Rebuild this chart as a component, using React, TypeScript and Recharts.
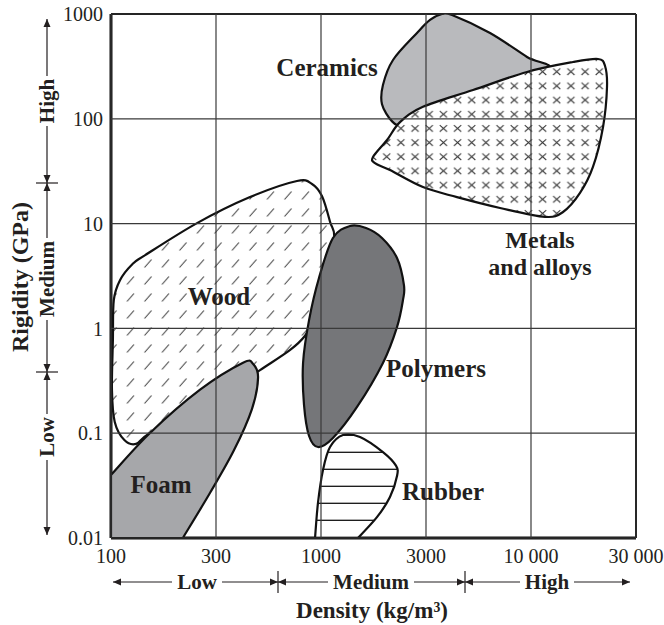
import React from 'react';
import { CartesianGrid, ReferenceLine, Scatter, ScatterChart, XAxis, YAxis } from 'recharts';

const densityTicks = [100, 300, 1000, 3000, 10000, 30000];
const densityTickLabels = ['100', '300', '1000', '3000', '10 000', '30 000'];
const rigidityTicks = [0.01, 0.1, 1, 10, 100, 1000];
const rigidityTickLabels = ['0.01', '0.1', '1', '10', '100', '1000'];

// outlines as [density kg/m3, rigidity GPa], clockwise. a repeated point = sharp corner
const wood = [
  [103, 1.87], [110, 2.9], [125, 4.1], [143, 5.0], [246, 10.1], [443, 17.9], [759, 25.5],
  [902, 23.9], [1010, 18.3], [1099, 10.4], [1146, 7.0], [1010, 2.3], [833, 0.85], [497, 0.4],
  [254, 0.18], [150, 0.1], [130, 0.079], [115, 0.086], [104, 0.128], [101, 0.26], [102, 0.77],
];
const foam = [
  [100, 0.04], [100, 0.04], [150, 0.1], [254, 0.26], [409, 0.47], [458, 0.46], [486, 0.34],
  [453, 0.17], [369, 0.069], [282, 0.027], [212, 0.01], [212, 0.01], [100, 0.01], [100, 0.01],
];
const polymers = [
  [1354, 9.48], [1602, 9.08], [1893, 7.29], [2215, 4.7], [2382, 2.59], [2358, 1.87], [2215, 1.03],
  [1912, 0.468], [1458, 0.178], [1133, 0.09], [966, 0.0738], [872, 0.094], [823, 0.186],
  [814, 0.468], [872, 1.2], [977, 3.03], [1133, 7.29],
];
const rubber = [
  [1259, 0.096], [1504, 0.092], [1912, 0.066], [2191, 0.049], [2215, 0.039], [2058, 0.0246],
  [1796, 0.0158], [1472, 0.01], [1472, 0.01], [934, 0.01], [934, 0.01], [966, 0.0216],
  [1021, 0.0446], [1099, 0.0738],
];
const ceramics = [
  [2100, 95], [1893, 138], [1912, 210], [2124, 364], [2730, 659], [3141, 877], [3602, 1000],
  [4045, 978], [6253, 659], [9553, 389], [11950, 292], [5571, 158], [3141, 104], [2333, 88],
];
const metals = [
  [1723, 43.2], [1996, 62.8], [2285, 93], [2906, 130], [5145, 188], [9553, 280], [15520, 348],
  [20160, 372], [21700, 319], [22150, 201], [21250, 83.6], [19120, 34.7], [16700, 19.6],
  [13980, 12.9], [11570, 11.6], [7010, 14.1], [4279, 17.9], [2906, 22.3], [2058, 32.4], [1759, 37.8],
];

// density ticks sit at equal spacing on the original, so map density onto tick index
const toAxisX = (d: number) => {
  for (let i = 0; i < densityTicks.length - 1; i++) {
    if (d <= densityTicks[i + 1]) {
      return i + Math.log(d / densityTicks[i]) / Math.log(densityTicks[i + 1] / densityTicks[i]);
    }
  }
  return densityTicks.length - 1;
};
const toPoints = (rows: number[][]) => rows.map(([d, r]) => ({ x: toAxisX(d), y: r }));

// closed catmull-rom through the points
const smoothClosed = (context: any) => {
  let pts: number[][] = [];
  const same = (a: number[], b: number[]) => Math.abs(a[0] - b[0]) < 0.01 && Math.abs(a[1] - b[1]) < 0.01;
  return {
    areaStart() {},
    areaEnd() {},
    lineStart() {
      pts = [];
    },
    point(x: number, y: number) {
      pts.push([x, y]);
    },
    lineEnd() {
      const n = pts.length;
      if (n < 2) return;
      context.moveTo(pts[0][0], pts[0][1]);
      for (let i = 0; i < n; i++) {
        const p0 = pts[(i - 1 + n) % n];
        const p1 = pts[i];
        const p2 = pts[(i + 1) % n];
        const p3 = pts[(i + 2) % n];
        if (same(p1, p2)) continue;
        context.bezierCurveTo(
          p1[0] + (p2[0] - p0[0]) / 6,
          p1[1] + (p2[1] - p0[1]) / 6,
          p2[0] - (p3[0] - p1[0]) / 6,
          p2[1] - (p3[1] - p1[1]) / 6,
          p2[0],
          p2[1],
        );
      }
      context.closePath();
    },
  };
};

const noDot = () => <g />;
const serif = '"Liberation Serif", "Times New Roman", serif';
const ink = '#231f20';

const blobs = [
  { name: 'wood', rows: wood, fill: 'url(#wood-hatch)' },
  { name: 'foam', rows: foam, fill: '#a6a7aa' },
  { name: 'polymers', rows: polymers, fill: '#757679' },
  { name: 'rubber', rows: rubber, fill: 'url(#rubber-lines)' },
  { name: 'ceramics', rows: ceramics, fill: '#b9babd' },
  { name: 'metals', rows: metals, fill: 'url(#metal-cross)' },
];

const yBands = [
  { label: 'High', from: 19, to: 183, mid: 101, len: 44 },
  { label: 'Medium', from: 183, to: 372, mid: 279, len: 76 },
  { label: 'Low', from: 372, to: 535, mid: 437, len: 40 },
];
const xBands = [
  { label: 'Low', from: 113, to: 278, mid: 197, len: 40 },
  { label: 'Medium', from: 278, to: 465, mid: 371, len: 76 },
  { label: 'High', from: 465, to: 630, mid: 547, len: 44 },
];

const head = (x: number, y: number, dir: 'up' | 'down' | 'left' | 'right') => {
  const l = 8;
  const w = 3.5;
  const pts =
    dir === 'up' ? [[x, y], [x - w, y + l], [x + w, y + l]]
    : dir === 'down' ? [[x, y], [x - w, y - l], [x + w, y - l]]
    : dir === 'left' ? [[x, y], [x + l, y - w], [x + l, y + w]]
    : [[x, y], [x - l, y - w], [x - l, y + w]];
  return <polygon points={pts.map((p) => p.join(',')).join(' ')} fill={ink} />;
};

const Annotations = () => {
  const ax = 47;
  const ay = 582;
  return (
    <svg width={664} height={625} style={{ position: 'absolute', left: 0, top: 0, pointerEvents: 'none' }}>
      {yBands.map((b) => (
        <g key={`y-${b.label}`}>
          <line x1={ax} x2={ax} y1={b.from} y2={b.mid - b.len / 2 - 3} stroke={ink} strokeWidth={1.2} />
          <line x1={ax} x2={ax} y1={b.mid + b.len / 2 + 3} y2={b.to} stroke={ink} strokeWidth={1.2} />
          {head(ax, b.from, 'up')}
          {head(ax, b.to, 'down')}
          <text
            transform={`translate(${ax + 7},${b.mid}) rotate(-90)`}
            textAnchor="middle"
            fontFamily={serif}
            fontWeight="bold"
            fontSize={21}
            fill={ink}
          >
            {b.label}
          </text>
        </g>
      ))}
      {[183, 372].map((y) => (
        <line key={`ys-${y}`} x1={36} x2={58} y1={y} y2={y} stroke={ink} strokeWidth={1.2} />
      ))}
      {xBands.map((b) => (
        <g key={`x-${b.label}`}>
          <line x1={b.from} x2={b.mid - b.len / 2 - 5} y1={ay} y2={ay} stroke={ink} strokeWidth={1.2} />
          <line x1={b.mid + b.len / 2 + 5} x2={b.to} y1={ay} y2={ay} stroke={ink} strokeWidth={1.2} />
          {head(b.from, ay, 'left')}
          {head(b.to, ay, 'right')}
          <text x={b.mid} y={ay + 7} textAnchor="middle" fontFamily={serif} fontWeight="bold" fontSize={21} fill={ink}>
            {b.label}
          </text>
        </g>
      ))}
      {[278, 465].map((x) => (
        <line key={`xs-${x}`} x1={x} x2={x} y1={571} y2={593} stroke={ink} strokeWidth={1.2} />
      ))}
      <text
        transform="translate(28,277) rotate(-90)"
        textAnchor="middle"
        fontFamily={serif}
        fontWeight="bold"
        fontSize={24}
        fill={ink}
      >
        Rigidity (GPa)
      </text>
      <text x={372} y={618} textAnchor="middle" fontFamily={serif} fontWeight="bold" fontSize={23} fill={ink}>
        Density (kg/m³)
      </text>
      <g fontFamily={serif} fontWeight="bold" fontSize={25} fill={ink} textAnchor="middle">
        <text x={327} y={76}>Ceramics</text>
        <text x={540} y={248} fontSize={24}>Metals</text>
        <text x={540} y={275} fontSize={24}>and alloys</text>
        <text x={219} y={305}>Wood</text>
        <text x={436} y={377}>Polymers</text>
        <text x={443} y={500}>Rubber</text>
        <text x={161} y={493}>Foam</text>
      </g>
    </svg>
  );
};

export default function App() {
  return (
    <div style={{ position: 'absolute', left: 0, top: 0, width: 664, height: 625, background: '#fff' }}>
      <svg width={0} height={0} style={{ position: 'absolute' }}>
        <defs>
          <pattern id="wood-hatch" patternUnits="userSpaceOnUse" width={17.5} height={17}>
            <rect width={17.5} height={17} fill="#fff" />
            <line x1={4.5} y1={12.5} x2={11.5} y2={4.5} stroke="#333" strokeWidth={1} />
          </pattern>
          <pattern id="metal-cross" patternUnits="userSpaceOnUse" x={11.2} y={7.9} width={14.17} height={14.17}>
            <rect width={14.17} height={14.17} fill="#fff" />
            <path d="M3.5 3.8 L10.7 10.4 M10.7 3.8 L3.5 10.4" stroke="#333" strokeWidth={1} />
          </pattern>
          <pattern id="rubber-lines" patternUnits="userSpaceOnUse" width={20} height={17}>
            <rect width={20} height={17} fill="#fff" />
            <line x1={0} x2={20} y1={10.3} y2={10.3} stroke="#111" strokeWidth={1.3} />
          </pattern>
        </defs>
      </svg>
      <ScatterChart width={664} height={625} margin={{ top: 14, right: 28, bottom: 57, left: 51 }}>
        <XAxis
          type="number"
          dataKey="x"
          domain={[0, densityTicks.length - 1]}
          ticks={densityTicks.map(toAxisX)}
          tickFormatter={(v: number) => densityTickLabels[Math.round(v)]}
          tickLine={false}
          tickSize={9}
          tickMargin={2}
          axisLine={{ stroke: '#111', strokeWidth: 3 }}
          tick={{ fontSize: 20, fill: ink, fontFamily: serif }}
          allowDataOverflow
        />
        <YAxis
          type="number"
          dataKey="y"
          scale="log"
          domain={[0.01, 1000]}
          ticks={rigidityTicks}
          tickFormatter={(v: number) => rigidityTickLabels[rigidityTicks.indexOf(v)] ?? String(v)}
          tickLine={false}
          tickSize={6}
          tickMargin={2}
          width={60}
          axisLine={{ stroke: '#111', strokeWidth: 3 }}
          tick={{ fontSize: 20, fill: ink, fontFamily: serif }}
          allowDataOverflow
        />
        {blobs.map((b) => (
          <Scatter
            key={b.name}
            name={b.name}
            data={toPoints(b.rows)}
            isAnimationActive={false}
            shape={noDot}
            line={{ stroke: '#111', strokeWidth: 2.2, fill: b.fill, strokeLinejoin: 'round' }}
            lineJointType={smoothClosed as any}
          />
        ))}
        <CartesianGrid stroke="#3a3a3a" strokeWidth={1.2} zIndex={650} />
        <ReferenceLine y={1000} stroke="#111" strokeWidth={2} />
        <ReferenceLine x={densityTicks.length - 1} stroke="#111" strokeWidth={2} />
      </ScatterChart>
      <Annotations />
    </div>
  );
}
